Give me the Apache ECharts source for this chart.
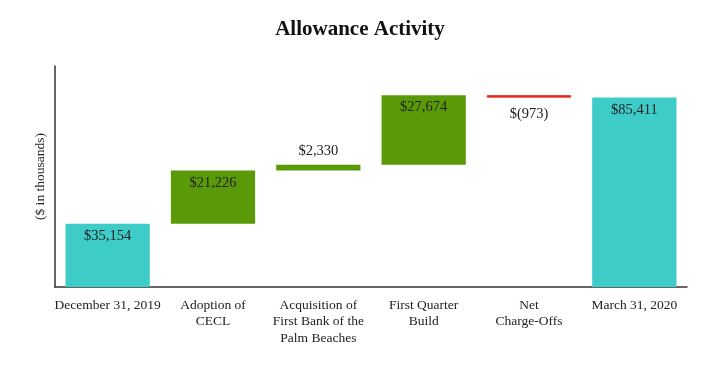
<!DOCTYPE html>
<html>
<head>
<meta charset="utf-8">
<script src="https://cdn.jsdelivr.net/npm/echarts@6/dist/echarts.min.js"></script>
<style>html,body{margin:0;padding:0;background:#fff}#c{width:720px;height:367px}</style>
</head>
<body>
<div id="c"></div>
<script>
const categories = ["December 31, 2019", "Adoption of\nCECL", "Acquisition of\nFirst Bank of the\nPalm Beaches", "First Quarter\nBuild", "Net\nCharge-Offs", "March 31, 2020"];
const amounts = [35154, 21226, 2330, 27674, -973, 85411];
const kinds = ["total", "delta", "delta", "delta", "delta", "total"];

const colors = { total: "#3ECCC8", up: "#5A9A08", down: "#E8281E" };
const FONT = "'Liberation Serif','Times New Roman',serif";

function fmt(v) {
  const s = Math.abs(v).toLocaleString("en-US");
  return v < 0 ? "$(" + s + ")" : "$" + s;
}

const base = [], height = [];
let running = 0;
amounts.forEach((v, i) => {
  if (kinds[i] === "total") { base.push(0); height.push(v); running = v; }
  else if (v >= 0) { base.push(running); height.push(v); running += v; }
  else { running += v; base.push(running); height.push(-v); }
});

const labelPos = ["insideTop", "insideTop", "top", "insideTop", "bottom", "insideTop"];
const labelDist = [5, 5, 6, 5, 9, 5];

const visData = height.map((h, i) => {
  const neg = kinds[i] !== "total" && amounts[i] < 0;
  const c = kinds[i] === "total" ? colors.total : (amounts[i] >= 0 ? colors.up : colors.down);
  return {
    value: h,
    itemStyle: neg ? { color: c, borderColor: c, borderWidth: 0.8 } : { color: c },
    label: { show: true, position: labelPos[i], distance: labelDist[i],
      formatter: () => fmt(amounts[i]) }
  };
});

const chart = echarts.init(document.getElementById("c"));
chart.setOption({
  animation: false,
  title: {
    text: "Allowance Activity", left: "center", top: 14,
    textStyle: { fontFamily: FONT, fontSize: 21, fontWeight: "bold", color: "#111" }
  },
  grid: { left: 55, right: 33, top: 66, bottom: 80 },
  xAxis: {
    type: "category", data: categories,
    axisLine: { lineStyle: { color: "#333", width: 1.5 } },
    axisTick: { show: false },
    axisLabel: { interval: 0, fontFamily: FONT, fontSize: 13.5, color: "#222", lineHeight: 16.5, margin: 10 }
  },
  yAxis: {
    type: "value", min: 10000, max: 98000,
    name: "($ in thousands)", nameLocation: "middle", nameGap: 8, nameRotate: 90,
    nameTextStyle: { fontFamily: FONT, fontSize: 13.5, color: "#222" },
    axisLine: { show: true, lineStyle: { color: "#333", width: 1.5 } },
    axisTick: { show: false }, axisLabel: { show: false }, splitLine: { show: false }
  },
  series: [
    { type: "bar", stack: "w", data: base, itemStyle: { color: "transparent" }, barWidth: "80%", silent: true },
    { type: "bar", stack: "w", data: visData, barWidth: "80%",
      label: { fontFamily: FONT, fontSize: 14.5, color: "#222" } }
  ]
});
</script>
</body>
</html>
